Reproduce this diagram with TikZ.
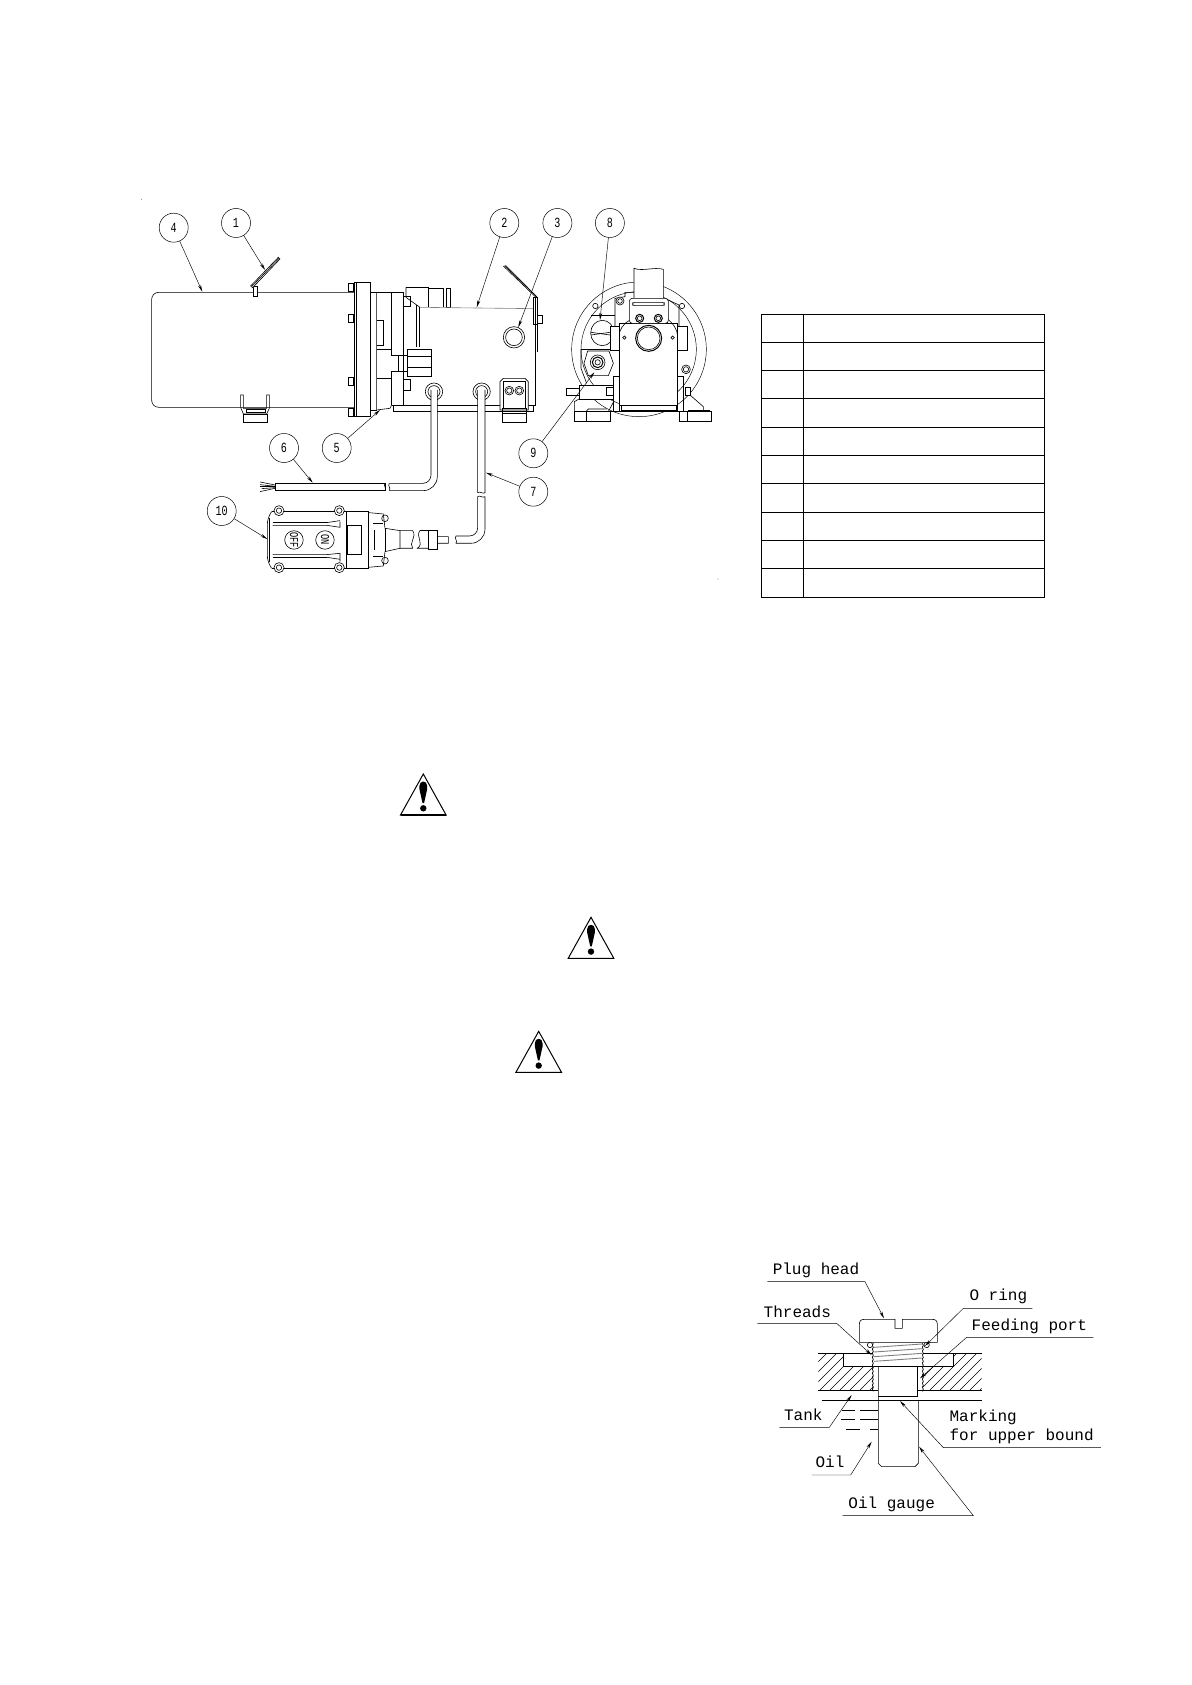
\documentclass[tikz,border=0pt]{standalone}
\usepackage{fontspec}
\usetikzlibrary{arrows.meta}
\newfontfamily\cadfont{Liberation Mono}
\newfontfamily\bubblefont[FakeStretch=0.72]{Liberation Mono}
\tikzset{
    part/.style={line width=0.6pt},
    solid part/.style={part, fill=white},
    callout/.style={circle, draw, line width=0.5pt, minimum size=29pt, inner sep=0pt, font=\bubblefont\fontsize{14}{14}\selectfont},
    leader/.style={line width=0.45pt, -{Stealth[length=7pt,width=3pt]}},
    hint/.style={font=\cadfont\fontsize{16}{16}\selectfont, inner sep=0pt},
    switchbutton/.style={part, circle, draw, minimum size=18.5pt, inner sep=0pt, rotate=-90, font=\bubblefont\fontsize{12}{12}\selectfont},
    sideview/.style={shift={(130,190)},x=0.3333pt,y=-0.3333pt},
    frontview/.style={shift={(555,255)},x=0.3333pt,y=-0.3333pt},
    plugview/.style={shift={(740,1240)},x=0.3333pt,y=-0.3333pt},
    warnsign/.pic={
        \draw[line width=1pt, line join=miter] (0,0) -- (22.8,41) -- (-22.8,41) -- cycle;
        \draw[line width=1.4pt] (22.8,41) -- (-22.8,41);
        \fill (-3.9,12) .. controls (-3.9,6) and (3.9,6) .. (3.9,12) -- (3.9,15) -- (0.8,29) -- (-0.8,29) -- (-3.9,15) -- cycle;
        \fill (0,34.3) circle (3.2);
    },
}
\begin{document}
\begin{tikzpicture}[x=1pt,y=-1pt]
\useasboundingbox (0,0) rectangle (1191,1685);
\fill[white] (0,0) rectangle (1191,1685);

% specks of the scan
\fill (141.7,199.3) circle (0.4);
\fill (718,579) circle (0.4);

% motor and tank, side view
\begin{scope}[sideview, part]
    \draw[rounded corners=7pt] (672,307) -- (65,307) -- (65,652) -- (672,652);
    \draw[solid part] (370,288) rectangle (382,318);
    \draw[solid part] (362,288) -- (445,202) -- (450,207) -- (368,293) -- cycle;
    \draw (366,289) -- (447,205);
    \draw (332,652) -- (332,615) -- (340,615) -- (340,655) -- (410,655) -- (410,615) -- (418,615) -- (418,655) -- (410,672) -- (340,672) -- cycle;
    \draw (348,658) rectangle (405,668);
    \draw (340,672) rectangle (412,697);
    % flange and bolts
    \draw (672,277) rectangle (722,680);
    \draw (680,277) -- (680,680);
    \foreach \yb in {280,372,562,655}
        \draw (655,\yb) rectangle (670,\yb+24);
    % gear block
    \draw (722,307) -- (820,307) -- (820,645) -- (785,645);
    \draw (785,307) -- (785,497);
    \draw (785,543) -- (785,645);
    \draw (740,307) -- (740,660) -- (780,655) -- (785,645);
    \draw (740,392) -- (760,392) -- (760,465) -- (740,465);
    \draw (740,478) -- (785,478);
    \draw (740,565) -- (785,565);
    \draw (722,660) -- (740,660);
    \draw (785,497) -- (832,497);
    \draw (785,543) -- (832,543);
    \draw (805,497) -- (805,543);
    \draw[solid part] (832,478) rectangle (905,558);
    \draw (832,498) -- (905,498);
    \draw (832,533) -- (905,533);
    \draw[solid part] (820,320) rectangle (842,350);
    \draw[solid part] (820,568) rectangle (842,600);
    % elbow on the tank
    \draw (828,292) -- (895,292) -- (895,352);
    \draw (828,292) -- (828,322) -- (860,345) -- (870,352);
    \draw (895,295) -- (940,295) -- (940,352);
    \draw (948,295) rectangle (962,352);
    \draw (858,345) -- (858,470);
    \draw (868,352) -- (868,470);
    \draw[gray] (870,352) -- (1210,356);
    % tank
    \draw (790,647) rectangle (1210,665);
    \draw (1217,325) -- (1217,647) -- (1210,647);
    \draw (1120,228) -- (1218,322);
    \draw (1124,227) -- (1220,320);
    \draw (1127,226) -- (1222,322);
    \draw (1210,322) -- (1222,322) -- (1222,485);
    \draw (1210,322) -- (1210,402) -- (1222,402);
    \draw[solid part] (1222,375) rectangle (1236,400);
    \draw (1152,442) circle (32);
    \draw (1152,442) circle (25);
    % cable glands and cables
    \draw[solid part] (912,605) circle (26);
    \draw (912,605) circle (18);
    \draw[solid part] (1055,605) circle (26);
    \draw (1055,605) circle (18);
    \fill[white] (903,600) rectangle (922,880);
    \fill[white] (1043,600) rectangle (1065,908);
    \draw[rounded corners=14pt] (922,600) -- (922,902) -- (778,902);
    \draw[rounded corners=8pt] (903,600) -- (903,880) -- (778,880);
    \draw (778,880) .. controls (772,888) and (784,894) .. (778,902);
    \draw (435,880) rectangle (765,902);
    \draw (765,880) .. controls (759,888) and (771,894) .. (765,902);
    \draw (390,876) -- (435,885);
    \draw (390,884) -- (435,889);
    \draw (390,890) -- (435,890);
    \draw (390,905) -- (435,895);
    \draw (395,896) -- (435,893);
    \draw (1043,600) -- (1043,908) .. controls (1050,902) and (1058,914) .. (1065,908) -- (1065,600);
    \draw[rounded corners=8pt] (1043,920) -- (1043,1038) -- (978,1038);
    \draw[rounded corners=14pt] (1065,920) -- (1065,1060) -- (978,1060);
    \draw (1043,920) .. controls (1050,914) and (1058,926) .. (1065,920);
    \draw (978,1038) .. controls (972,1046) and (984,1052) .. (978,1060);
    % clamp
    \draw[solid part] (1110,660) -- (1110,575) -- (1120,565) -- (1185,565) -- (1195,575) -- (1195,660) -- cycle;
    \draw (1120,655) -- (1120,575) -- (1185,575) -- (1185,655) -- cycle;
    \draw (1117,655) rectangle (1190,670);
    \draw (1117,670) rectangle (1190,697);
    \foreach \xb in {1138,1168} {
        \draw (\xb,602) circle (13);
        \draw (\xb,602) circle (8);
    }
    % push button box
    \draw[rounded corners=6pt] (425,965) -- (412,985) -- (412,1115) -- (425,1135);
    \draw (425,965) -- (650,965);
    \draw (425,1135) -- (650,1135);
    \draw (418,985) -- (418,1115);
    \draw (650,965) rectangle (716,1135);
    \draw (652,1005) rectangle (695,1093);
    \foreach \xb/\yb in {447/962,628/962,447/1133,628/1133} {
        \draw[solid part] (\xb,\yb) circle (15);
        \draw (\xb,\yb) circle (8);
    }
    \draw[line width=1.2pt] (428,998) -- (590,998);
    \draw (428,1006) -- (590,1006) -- (630,1012) -- (630,995);
    \draw (590,998) -- (630,992);
    \draw[line width=1.2pt] (428,1102) -- (590,1102);
    \draw (428,1094) -- (590,1094) -- (630,1090) -- (630,1115);
    \draw (590,1102) -- (630,1108);
    \node[switchbutton] (btnoff) at (492,1050) {OFF};
    \node[switchbutton] (btnon) at (585,1050) {ON};
    \draw (716,968) -- (760,972) -- (765,1015);
    \draw (716,1132) -- (760,1128) -- (765,1085);
    \draw (730,1000) -- (760,1000);
    \draw (730,1100) -- (760,1100);
    \draw (733,1020) -- (733,1080);
    \draw (765,985) circle (10);
    \draw (765,1112) circle (10);
    \draw (765,1015) -- (765,1085);
    \draw (765,1015) -- (810,1022) -- (810,1075) -- (765,1085);
    \draw (810,1022) -- (848,1022) .. controls (862,1040) and (835,1060) .. (848,1075) -- (810,1075);
    \draw (870,1022) .. controls (855,1040) and (885,1060) .. (862,1075) -- (895,1075);
    \draw (870,1022) -- (895,1022);
    \draw (895,1022) rectangle (922,1078);
    \draw (922,1040) -- (955,1040) .. controls (950,1047) and (960,1053) .. (955,1060) -- (922,1060);
\end{scope}

% front view
\begin{scope}[frontview, part]
    \draw[line width=0.45pt] (252,283) circle (202);
    \draw[line width=0.45pt] (251,283) circle (173);
    \draw[solid part] (142,234) ellipse (35 and 38);
    \draw (108,232) -- (165,240);
    \draw (108,240) -- (165,232);
    \draw (121,153) circle (8);
    \draw (381,153) circle (8);
    \draw[solid part] (393,343) circle (13);
    \draw (393,343) circle (8);
    \draw (108,180) -- (180,180);
    \draw (180,213) -- (180,130) -- (210,125) -- (210,112) -- (310,112) -- (310,130);
    \draw[solid part] (195,138) circle (12);
    \draw (195,138) circle (7);
    \draw (340,135) -- (372,150) -- (372,214);
    \draw (78,283) -- (180,283);
    \draw (78,283) -- (78,340) -- (95,385);
    % fitting
    \draw[solid part] (98,288) -- (162,288) -- (175,325) -- (160,362) -- (100,362) -- (87,325) -- cycle;
    \draw (128,322) circle (22);
    \draw[line width=1pt] (128,322) circle (16);
    \draw (128,322) circle (8);
    % body
    \draw[solid part] (192,205) rectangle (368,460);
    \draw (192,245) .. controls (192,225) and (205,205) .. (225,195);
    \draw (368,245) .. controls (368,225) and (355,205) .. (335,190);
    \draw[solid part] (167,214) rectangle (192,285);
    \draw[solid part] (368,214) rectangle (397,285);
    \draw[line width=1pt, fill=white] (281,250) circle (39);
    \draw (281,250) circle (34);
    \draw (208,248) circle (5);
    \draw (353,248) circle (5);
    \draw[solid part] (237,130) -- (237,40) .. controls (265,50) and (295,35) .. (325,43) -- (325,130);
    \draw[solid part, rounded corners=3pt] (223,130) rectangle (340,205);
    \draw[rounded corners=2pt] (233,142) rectangle (328,152);
    \foreach \xb in {254,310} {
        \draw[line width=1pt] (\xb,190) circle (12);
        \draw (\xb,190) circle (7);
    }
    \draw (175,470) -- (175,365) -- (192,365);
    \draw (385,470) -- (385,365) -- (368,365);
    \draw (192,365) -- (192,452);
    \draw (368,365) -- (368,452);
    \draw[solid part] (192,450) rectangle (368,470);
    \draw[line width=1.2pt] (200,452) rectangle (365,467);
    % block and base
    \draw[solid part] (35,400) rectangle (72,420);
    \draw[solid part] (72,390) -- (175,390) -- (175,432) -- (72,432) -- cycle;
    \draw[solid part] (155,397) rectangle (175,422);
    \draw[solid part] (390,397) rectangle (405,422);
    \draw (58,470) -- (58,440) -- (72,432);
    \draw (155,462) -- (100,462) -- (93,470);
    \draw (175,432) -- (175,470);
    \draw (160,470) -- (175,442);
    \draw (58,470) rectangle (167,498);
    \draw (93,470) -- (93,498);
    \draw (167,470) -- (385,470);
    \draw (373,470) rectangle (470,498);
    \draw (397,470) -- (397,498);
    \draw (405,420) -- (445,455) -- (445,465);
    \draw (400,465) -- (463,465) -- (463,470);
\end{scope}

% callouts
\node[callout] (b4) at (173.7,227.7) {4};
\node[callout] (b1) at (236,223) {1};
\node[callout] (b2) at (504.3,223) {2};
\node[callout] (b3) at (557.4,223) {3};
\node[callout] (b8) at (609.9,223) {8};
\node[callout] (b5) at (336.7,448) {5};
\node[callout] (b6) at (284,448) {6};
\node[callout] (b9) at (533.3,453.3) {9};
\node[callout] (b7) at (533.3,491.7) {7};
\node[callout] (b10) at (221.7,511) {10};
\coordinate (t4) at (202.3,291.7);
\coordinate (t1) at (265,270);
\coordinate (t2) at (476.7,307.3);
\coordinate (t3) at (518.3,327.3);
\coordinate (t8) at (600,320);
\coordinate (t5) at (380,410);
\coordinate (t6) at (312.7,482.7);
\coordinate (t9) at (594.3,372.3);
\coordinate (t7) at (486,472.7);
\coordinate (t10) at (267.3,539);
\foreach \n in {1,...,10}
    \draw[leader] (b\n) -- (t\n);

% table
\draw[line width=1.2pt] (761.3,314.3) rectangle (1044.3,597.3);
\draw[line width=1.2pt] (803.3,314.3) -- (803.3,597.3);
\foreach \yr in {342.5,370.5,398.5,427.2,455.3,483.3,512.2,540.3,568.3}
    \draw[line width=1.2pt] (761.3,\yr) -- (1044.3,\yr);

% warning signs
\pic at (423.3,774) {warnsign};
\pic at (591,917.3) {warnsign};
\pic at (538.7,1031.3) {warnsign};

% oil gauge
\begin{scope}[plugview, part]
    \begin{scope}
        \clip (235,340) -- (310,340) -- (310,380) -- (400,380) -- (400,450) -- (235,450) -- cycle
              (725,340) -- (640,340) -- (640,380) -- (548,380) -- (548,450) -- (725,450) -- cycle;
        \foreach \xh in {120,150,...,750}
            \draw[line width=0.5pt] (\xh,450) -- (\xh+110,340);
    \end{scope}
    \draw (235,340) -- (400,340);
    \draw (550,340) -- (725,340);
    \draw (310,340) -- (310,380) -- (400,380);
    \draw (640,340) -- (640,380) -- (548,380);
    \draw (235,450) -- (415,450);
    \draw (533,450) -- (725,450);
    \draw[solid part] (358,307) -- (358,253) .. controls (358,243) and (363,238) .. (373,238) -- (465,238) -- (465,265) -- (487,265) -- (487,238) -- (577,238) .. controls (587,238) and (592,243) .. (592,253) -- (592,307) -- cycle;
    \foreach \yt in {322,336,350,364}
        \draw[line width=0.9pt, gray] (402,\yt) -- (546,\yt-10);
    \foreach \xe/\sg in {400/-1,547/1}
        \foreach \yt in {310,322,...,442}
            \draw[line width=0.7pt] (\xe,\yt) -- (\xe+\sg*3,\yt+6) -- (\xe,\yt+12);
    \draw[solid part] (390,315) circle (8);
    \draw[solid part] (560,315) circle (8);
    \draw (400,378) -- (548,378);
    \draw (415,380) -- (415,670) -- (425,680) -- (525,680) -- (535,670) -- (535,480);
    \draw (533,380) -- (533,470);
    \draw (415,470) -- (533,470);
    \draw (415,480) -- (535,480);
    \draw (245,480) -- (415,480);
    \draw (535,480) -- (725,480);
    \draw (305,510) -- (345,510);
    \draw (360,510) -- (415,510);
    \draw (303,539) -- (345,539);
    \draw (360,539) -- (415,539);
    \draw (318,568) -- (360,568);
    \draw (390,568) -- (415,568);
    % labels and their leaders
    \node[hint] (plughead) at (228,92) {Plug head};
    \node[hint] (threads) at (172,215) {Threads};
    \node[hint] (oring) at (775,170) {O ring};
    \node[hint] (feeding) at (868,258) {Feeding port};
    \node[hint] (tank) at (190,525) {Tank};
    \node[hint] (oil) at (270,665) {Oil};
    \node[hint, anchor=west] (marking) at (628,533) {Marking};
    \node[hint, anchor=west] (upper) at (628,590) {for upper bound};
    \node[hint] (gauge) at (455,793) {Oil gauge};
    \draw[leader] (82,125) -- (375,125) -- (432,235);
    \draw[leader] (52,250) -- (290,250) -- (395,345);
    \draw[leader] (877,205) -- (670,205) -- (555,318);
    \draw[leader] (1060,292) -- (680,292) -- (540,415);
    \draw[leader] (118,562) -- (268,562) -- (335,465);
    \draw[leader] (215,705) -- (332,705) -- (395,605);
    \draw[leader] (1083,623) -- (610,623) -- (480,483);
    \draw[leader] (308,827) -- (700,827) -- (537,620);
\end{scope}
\end{tikzpicture}
\end{document}
